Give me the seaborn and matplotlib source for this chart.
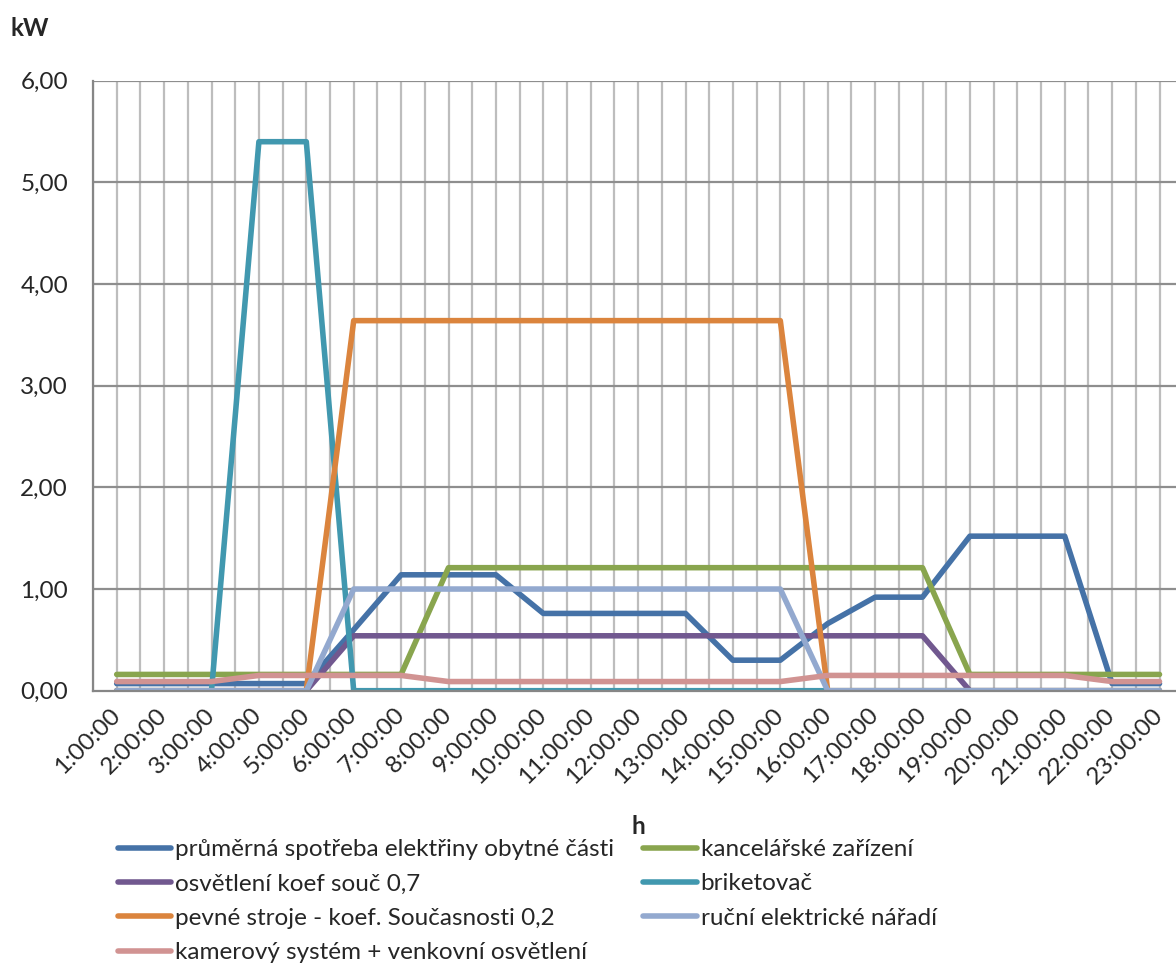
import matplotlib
matplotlib.use("Agg")
import matplotlib.pyplot as plt
from matplotlib.lines import Line2D
from matplotlib.ticker import FuncFormatter, MultipleLocator
import pandas as pd
import seaborn as sns

# Hourly categories
hours = ["1:00:00", "2:00:00", "3:00:00", "4:00:00", "5:00:00", "6:00:00",
         "7:00:00", "8:00:00", "9:00:00", "10:00:00", "11:00:00", "12:00:00",
         "13:00:00", "14:00:00", "15:00:00", "16:00:00", "17:00:00", "18:00:00",
         "19:00:00", "20:00:00", "21:00:00", "22:00:00", "23:00:00"]

# Load profiles in kW
prumerna = [0.07, 0.07, 0.07, 0.07, 0.07, 0.60, 1.14, 1.14, 1.14, 0.76, 0.76, 0.76,
            0.76, 0.30, 0.30, 0.66, 0.92, 0.92, 1.52, 1.52, 1.52, 0.07, 0.07]
kancelarske = [0.16, 0.16, 0.16, 0.16, 0.16, 0.16, 0.16, 1.21, 1.21, 1.21, 1.21, 1.21,
               1.21, 1.21, 1.21, 1.21, 1.21, 1.21, 0.16, 0.16, 0.16, 0.16, 0.16]
osvetleni = [0.00, 0.00, 0.00, 0.00, 0.00, 0.54, 0.54, 0.54, 0.54, 0.54, 0.54, 0.54,
             0.54, 0.54, 0.54, 0.54, 0.54, 0.54, 0.00, 0.00, 0.00, 0.00, 0.00]
briketovac = [0.00, 0.00, 0.00, 5.40, 5.40, 0.00, 0.00, 0.00, 0.00, 0.00, 0.00, 0.00,
              0.00, 0.00, 0.00, 0.00, 0.00, 0.00, 0.00, 0.00, 0.00, 0.00, 0.00]
pevne_stroje = [0.00, 0.00, 0.00, 0.00, 0.00, 3.64, 3.64, 3.64, 3.64, 3.64, 3.64, 3.64,
                3.64, 3.64, 3.64, 0.00, 0.00, 0.00, 0.00, 0.00, 0.00, 0.00, 0.00]
rucni = [0.00, 0.00, 0.00, 0.00, 0.00, 1.00, 1.00, 1.00, 1.00, 1.00, 1.00, 1.00,
         1.00, 1.00, 1.00, 0.00, 0.00, 0.00, 0.00, 0.00, 0.00, 0.00, 0.00]
kamerovy = [0.09, 0.09, 0.09, 0.15, 0.15, 0.15, 0.15, 0.09, 0.09, 0.09, 0.09, 0.09,
            0.09, 0.09, 0.09, 0.15, 0.15, 0.15, 0.15, 0.15, 0.15, 0.09, 0.09]

series_names = [
    "průměrná spotřeba elektřiny obytné části",
    "kancelářské zařízení",
    "osvětlení koef souč 0,7",
    "briketovač",
    "pevné stroje - koef. Současnosti 0,2",
    "ruční elektrické nářadí",
    "kamerový systém + venkovní osvětlení",
]
series_values = [prumerna, kancelarske, osvetleni, briketovac, pevne_stroje, rucni, kamerovy]
series_colors = ["#4572A7", "#89A54E", "#71588F", "#4198AF", "#DB843D", "#93A9CF", "#D19392"]

rows = []
for name, vals in zip(series_names, series_values):
    for i, (h, v) in enumerate(zip(hours, vals)):
        rows.append({"pos": i, "hodina": h, "kW": v, "serie": name})
df = pd.DataFrame(rows)

sns.set_style("white")
plt.rcParams["font.family"] = ["Lato", "DejaVu Sans"]
FS = 17.5

W, H = 1176, 966
fig = plt.figure(figsize=(W / 100, H / 100), dpi=100)
left, right, top, bottom = 93, 1183.2, 80.7, 690.7
ax = fig.add_axes([left / W, 1 - bottom / H, (right - left) / W, (bottom - top) / H])

palette = dict(zip(series_names, series_colors))
sns.lineplot(data=df, x="pos", y="kW", hue="serie", hue_order=series_names,
             palette=palette, linewidth=4.0, legend=False, ax=ax,
             solid_capstyle="round", solid_joinstyle="round")

ax.set_xlim(-0.5, len(hours) - 0.5)
ax.set_ylim(0, 6)

# Category axis: labels at category centres, tick marks at boundaries
ax.set_xticks(range(len(hours)))
ax.set_xticklabels(hours, rotation=45, ha="right", va="center",
                   rotation_mode="anchor", fontsize=FS)
ax.set_xticks([i + 0.5 for i in range(-1, len(hours))], minor=True)
ax.tick_params(axis="x", which="major", length=0, pad=15)
ax.tick_params(axis="x", which="minor", length=6, width=1.2, color="#868686",
               direction="out")

ax.yaxis.set_major_locator(MultipleLocator(1))
ax.yaxis.set_major_formatter(FuncFormatter(lambda v, p: f"{v:.2f}".replace(".", ",")))
ax.tick_params(axis="y", which="major", length=8, width=1.2, color="#868686",
               direction="out", labelsize=FS, pad=10)

ax.grid(False)
for x in [i * 0.5 - 0.5 for i in range(2 * len(hours) + 1)]:
    ax.axvline(x, color="#BDBDBD", lw=1.6, zorder=0)
for y in range(1, 7):
    ax.axhline(y, color="#8E8E8E", lw=1.6, zorder=0)

for s in ["top", "right"]:
    ax.spines[s].set_visible(False)
for s in ["left", "bottom"]:
    ax.spines[s].set_color("#868686")
    ax.spines[s].set_linewidth(1.6)
ax.set_xlabel("")
ax.set_ylabel("")

fig.text(10 / W, 1 - 28 / H, "kW", fontsize=FS, fontweight="bold", ha="left", va="center")
fig.text(638 / W, 1 - 826 / H, "h", fontsize=FS, fontweight="bold", ha="center", va="center")

# Legend laid out row by row in two columns
order = [0, 2, 4, 6, 1, 3, 5]
handles = [Line2D([], [], color=series_colors[k], lw=4.0, solid_capstyle="round")
           for k in order]
labels = [series_names[k] for k in order]
fig.legend(handles, labels, ncol=2, loc="upper left",
           bbox_to_anchor=(118 / W, 1 - 839 / H), frameon=False, fontsize=FS,
           handlelength=2.2, handletextpad=0.15, columnspacing=1.2,
           labelspacing=0.55, borderpad=0, borderaxespad=0)

fig.savefig("out.png", dpi=100)
